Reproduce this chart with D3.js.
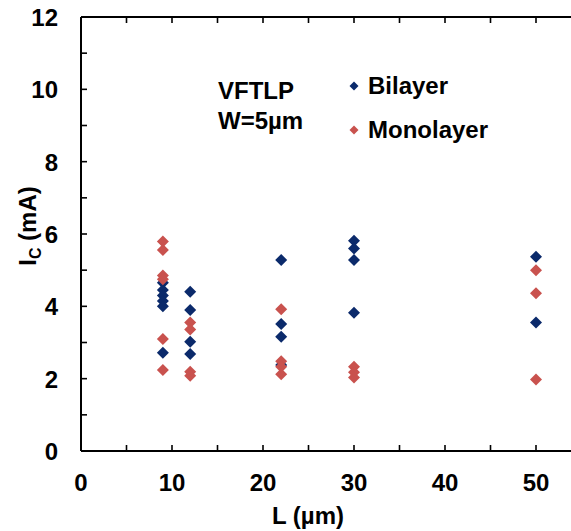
<!DOCTYPE html>
<html>
<head>
<meta charset="utf-8">
<script src="https://cdn.jsdelivr.net/npm/d3@7"></script>
<style>
  html, body { margin: 0; padding: 0; background: #fff; }
  svg { display: block; font-family: "Liberation Sans", Arial, sans-serif; font-weight: bold; }
</style>
</head>
<body>
<svg id="chart" width="571" height="531"></svg>
<script>
// Collector current vs. channel length, VFTLP, W = 5 µm
const bilayerL  = [9, 9, 9, 9, 9, 9, 12, 12, 12, 12, 22, 22, 22, 22, 30, 30, 30, 30, 50, 50];
const bilayerIc = [4.65, 4.45, 4.30, 4.15, 4.00, 2.72, 4.40, 3.90, 3.02, 2.68, 5.28, 3.51, 3.16, 2.38, 5.81, 5.60, 5.28, 3.82, 5.37, 3.55];

const monolayerL  = [9, 9, 9, 9, 9, 9, 12, 12, 12, 12, 22, 22, 22, 22, 30, 30, 30, 50, 50, 50];
const monolayerIc = [5.79, 5.56, 4.85, 4.75, 3.10, 2.24, 3.55, 3.36, 2.19, 2.08, 3.92, 2.48, 2.33, 2.12, 2.33, 2.18, 2.03, 5.00, 4.36, 1.98];

const xTickLabels = [0, 10, 20, 30, 40, 50];
const yTickLabels = [0, 2, 4, 6, 8, 10, 12];

const seriesNames  = ["Bilayer", "Monolayer"];
const seriesColors = ["#0b2a6b", "#c9524e"];

const svg = d3.select("#chart");
const x = d3.scaleLinear().domain([0, 55]).range([81, 581.5]);
const y = d3.scaleLinear().domain([0, 12]).range([451, 17]);

const ink = "#000";
const axisG = svg.append("g");

// frame lines
axisG.append("line").attr("x1", x(0)).attr("x2", x(55)).attr("y1", y(0)).attr("y2", y(0))
  .attr("stroke", ink).attr("stroke-width", 2);
axisG.append("line").attr("x1", x(0)).attr("x2", x(55)).attr("y1", y(12)).attr("y2", y(12))
  .attr("stroke", ink).attr("stroke-width", 2);
axisG.append("line").attr("x1", x(0)).attr("x2", x(0)).attr("y1", y(0)).attr("y2", y(12))
  .attr("stroke", ink).attr("stroke-width", 2);

// inward ticks: x every 5, y every 1
const xMinor = d3.range(5, 55, 5);
const yMinor = d3.range(1, 12, 1);
const tl = 6;
axisG.selectAll(".xtb").data(xMinor).join("line")
  .attr("x1", d => x(d)).attr("x2", d => x(d))
  .attr("y1", y(0)).attr("y2", y(0) - tl)
  .attr("stroke", ink).attr("stroke-width", 1.6);
axisG.selectAll(".xtt").data(xMinor).join("line")
  .attr("x1", d => x(d)).attr("x2", d => x(d))
  .attr("y1", y(12)).attr("y2", y(12) + tl)
  .attr("stroke", ink).attr("stroke-width", 1.6);
axisG.selectAll(".yt").data(yMinor).join("line")
  .attr("x1", x(0)).attr("x2", x(0) + tl)
  .attr("y1", d => y(d)).attr("y2", d => y(d))
  .attr("stroke", ink).attr("stroke-width", 1.6);

// tick labels
svg.append("g").selectAll("text").data(xTickLabels).join("text")
  .attr("x", d => x(d)).attr("y", 491)
  .attr("text-anchor", "middle").attr("font-size", 24)
  .text(d => d);
svg.append("g").selectAll("text").data(yTickLabels).join("text")
  .attr("x", 58).attr("y", d => y(d) + 9)
  .attr("text-anchor", "end").attr("font-size", 24)
  .text(d => d);

// axis titles
svg.append("text").attr("x", 308).attr("y", 524)
  .attr("text-anchor", "middle").attr("font-size", 24)
  .text("L (µm)");
const yt = svg.append("text")
  .attr("transform", "translate(36,226) rotate(-90)")
  .attr("text-anchor", "middle").attr("font-size", 24);
yt.append("tspan").text("I");
yt.append("tspan").attr("font-size", 16).attr("dy", 5).text("C");
yt.append("tspan").attr("dy", -5).text(" (mA)");

// diamond marker
const diamond = r => `M0,${-r}L${r},0L0,${r}L${-r},0Z`;

const plot = svg.append("g");
plot.selectAll(".bi").data(bilayerL.map((l, i) => [l, bilayerIc[i]])).join("path")
  .attr("d", diamond(6))
  .attr("transform", d => `translate(${x(d[0])},${y(d[1])})`)
  .attr("fill", seriesColors[0]);
plot.selectAll(".mono").data(monolayerL.map((l, i) => [l, monolayerIc[i]])).join("path")
  .attr("d", diamond(6))
  .attr("transform", d => `translate(${x(d[0])},${y(d[1])})`)
  .attr("fill", seriesColors[1]);

// annotation
svg.append("text").attr("x", 218).attr("y", 99).attr("font-size", 24).text("VFTLP");
svg.append("text").attr("x", 218).attr("y", 129).attr("font-size", 24).text("W=5µm");

// legend
const leg = svg.append("g");
seriesNames.forEach((name, i) => {
  const cy = 86 + i * 44;
  leg.append("path").attr("d", diamond(4.5))
    .attr("transform", `translate(354,${cy})`).attr("fill", seriesColors[i]);
  leg.append("text").attr("x", 368).attr("y", cy + 8).attr("font-size", 24).text(name);
});
</script>
</body>
</html>
